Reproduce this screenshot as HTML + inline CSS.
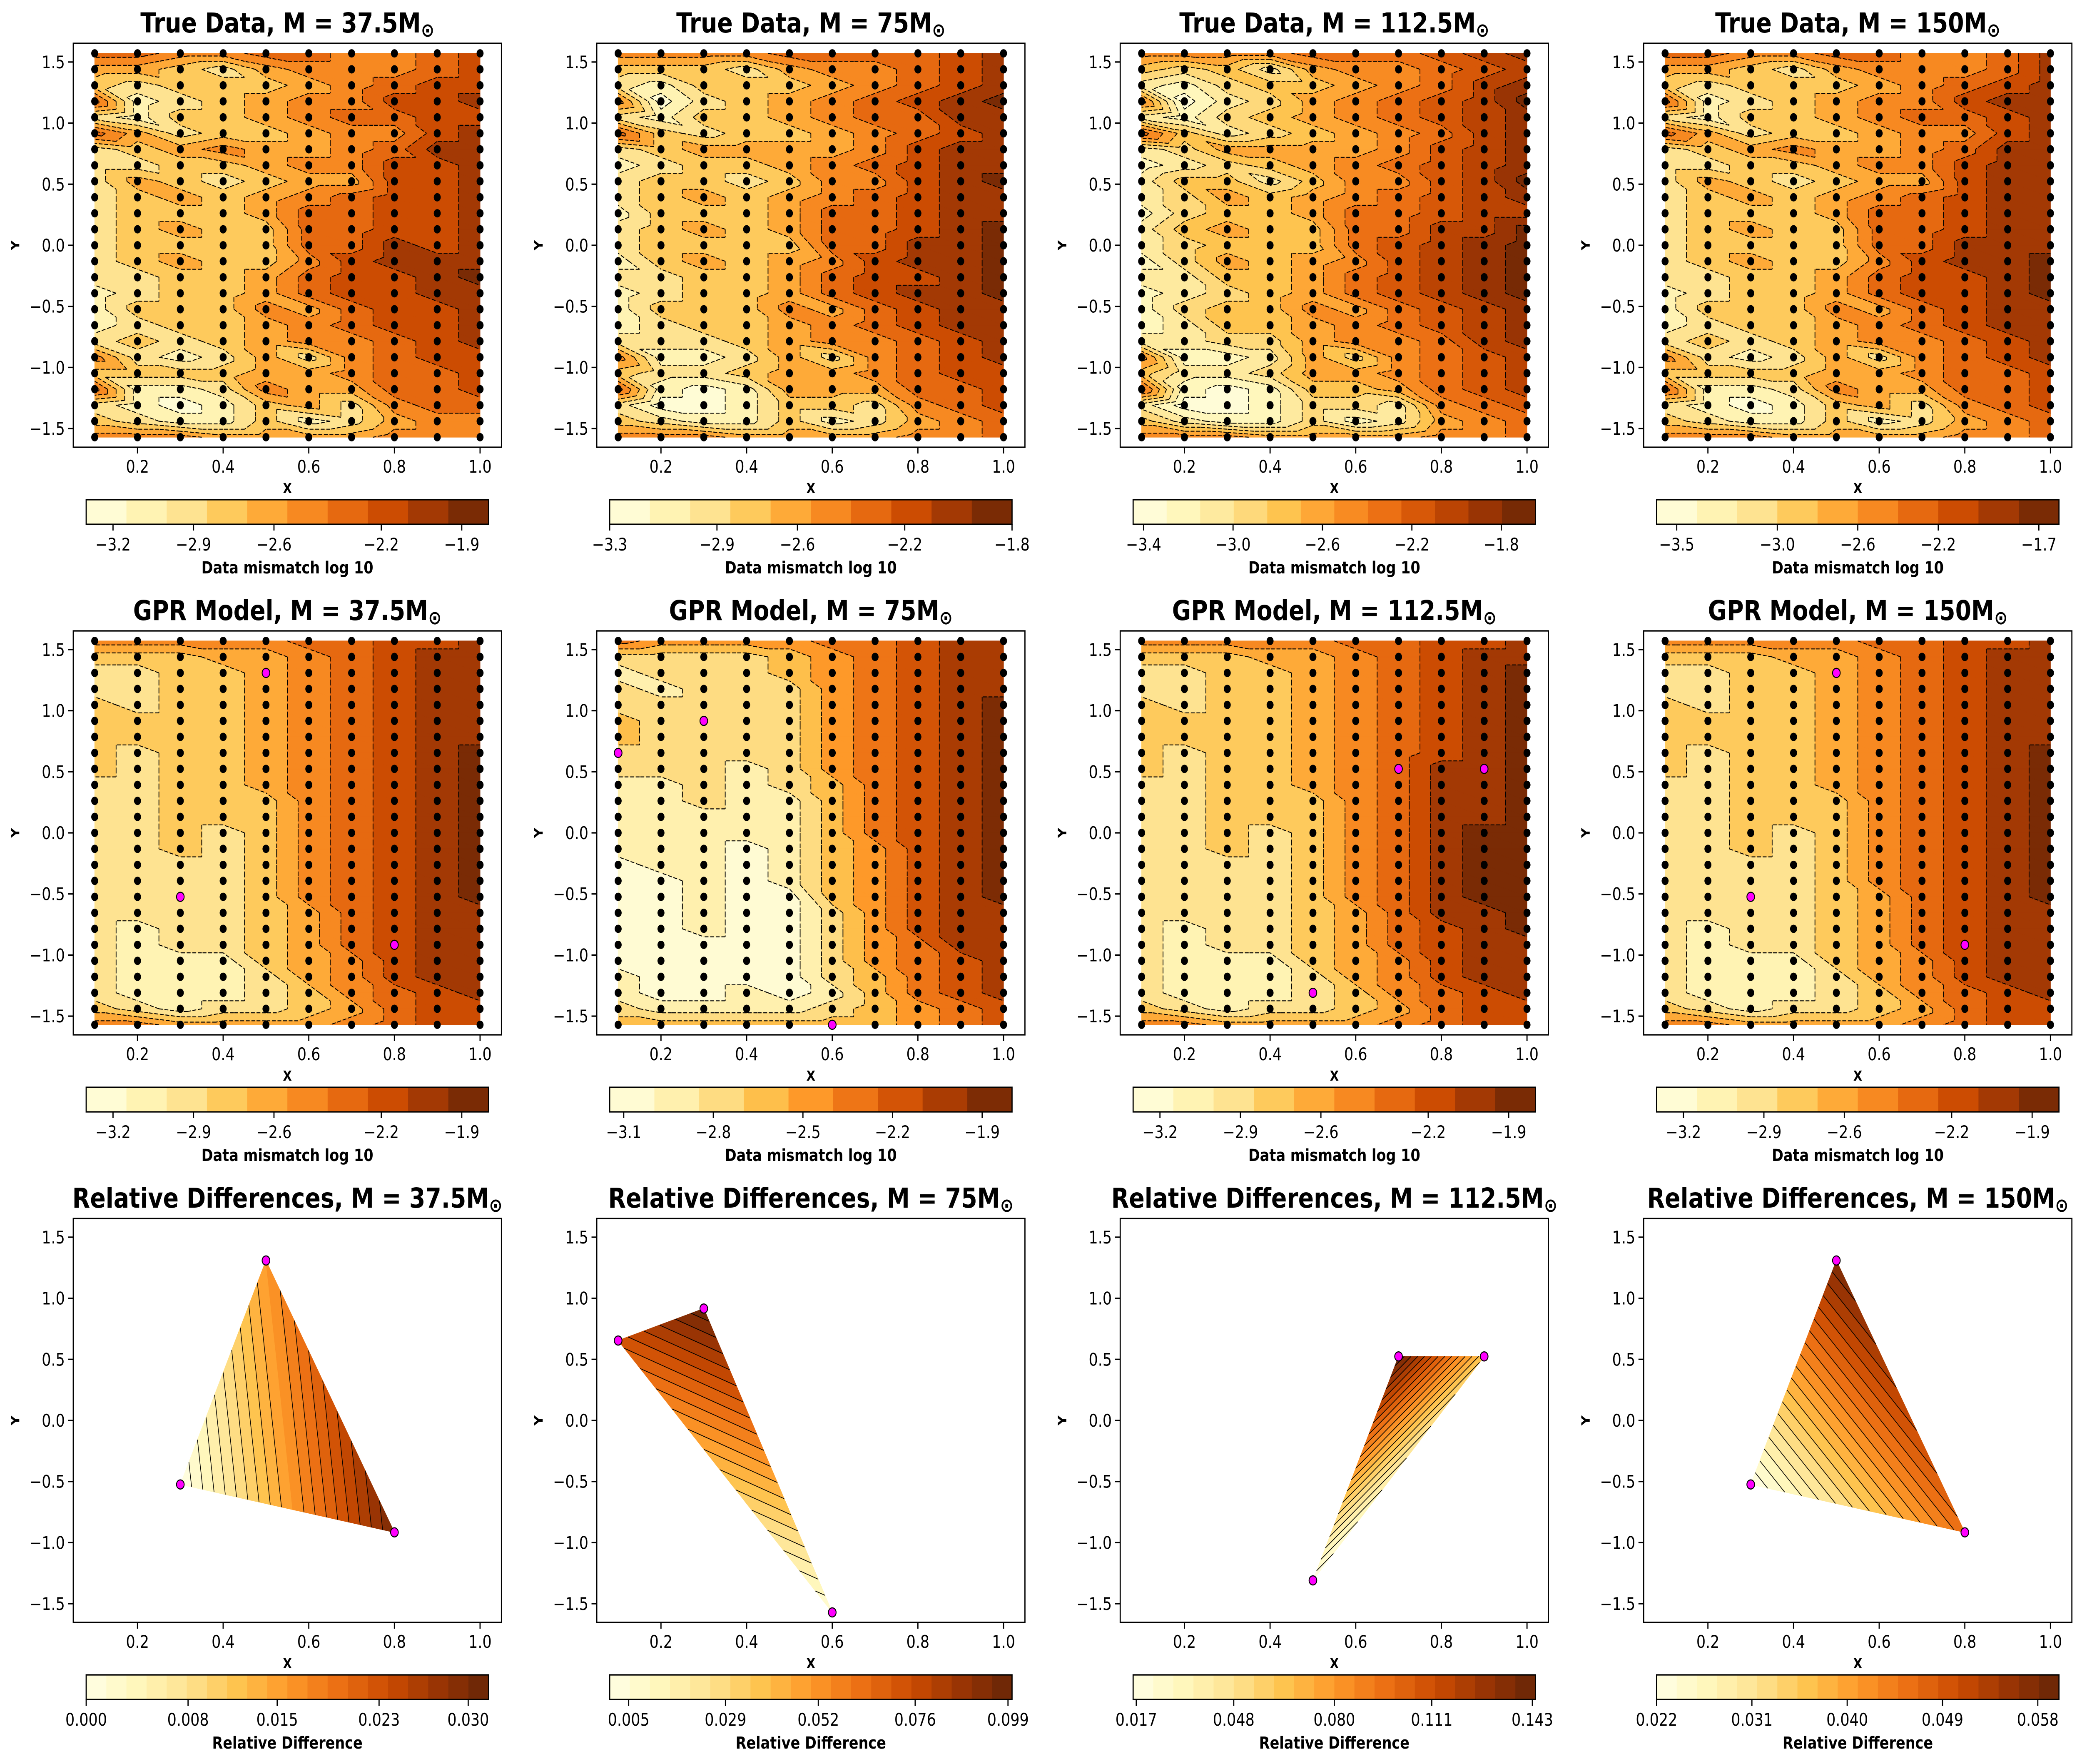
<!DOCTYPE html>
<html><head><meta charset="utf-8"><title>GPR contour grid</title>
<style>
html,body{margin:0;padding:0;background:#fff;overflow:hidden;width:100vw;height:100vh;}
svg{display:block;width:100vw;height:100vh;font-family:"DejaVu Sans","Liberation Sans",sans-serif;}
</style></head>
<body>
<svg id="fig" xmlns="http://www.w3.org/2000/svg" viewBox="0 0 5966 4236" preserveAspectRatio="none">
<rect x="0" y="0" width="5966" height="4236" fill="#fff"/>
</svg>
<script>
// ---------------- DATA ----------------
const xVals = [0.1,0.2,0.3,0.4,0.5,0.6,0.7,0.8,0.9,1.0];
const massLabels = ["37.5","75","112.5","150"];
const trueGrid1 = ["6655665567","4432455567","3233345677","6123455778","2133456677","6423345578","2345445688","2233455778","2432344778","2343456778","2333466778","2343366778","2333366878","2343357888","2233467789","1233467788","1333546778","1233456778","2323455678","5212425677","3333445667","6112544667","2101342566","3211312455","5554444555"];
const trueGrid2 = ["5555666678","3332455678","2133345678","5023456789","2133456688","6323345678","2344445788","1233456788","2332355789","2343456788","1333466788","2343466789","2333366889","1343457889","2233467789","1233467889","1333546788","1233456788","2223455678","5112425678","3223445677","6101444667","2001332567","3211312456","5554444556"];
const trueGrid3 = ["666677789a","4342566789","213445679a","602356789b","213456789a","742345679a","235555689a","123456789a","244246689b","235456789a","1344577899","245447799b","23444789ab","13545689ab","22445789ab","12345789ab","134465789a","124456789a","223356679a","6112536789","4223556789","7101445789","2001332678","4211312567","6665555667"];
const trueGrid4 = ["6655665568","4432455568","3233345678","6123455788","2133456678","6423345578","2345445688","2233455788","2432344788","2343456788","2333466788","2343366788","2333366888","2343357889","2233467789","1233467789","1333546788","1233456788","2323455678","5212425678","3333445667","6112544667","2101342567","3211312456","5554444556"];
const gprGrid1 = ["5555566778","3334456788","2233456788","2233456788","3233456788","3333456788","3333456788","3233456789","3233456789","2233456789","2233356789","2233356789","2232356789","2232356789","2222356789","2222356789","2222356789","2222346788","2122346788","2122346788","2111345788","2111245788","2111235678","3212234677","5544445677"];
const gprGrid2 = ["5444455677","2222345677","1222345677","2122245677","2222245678","3222245678","3222245678","2222245678","2221245678","1121235678","1121135678","1111135678","1111135678","1110134678","0110134678","0010134678","0010034678","0010024677","0010024677","0000024577","0000024567","1000023567","1001013567","2111123456","3333333456"];
const gprGrid3 = ["5555566778","3334456788","2233456789","2233456789","3233456789","3333456789","3333456789","3233456789","3233456889","2233456889","2233356889","2233356889","2232356899","2232356899","2222356899","2222356899","2222356899","2222346889","2122346789","2122346788","2111345788","2111245788","2111235678","3212234677","5544445677"];
const gprGrid4 = ["5555566778","3334456788","2233456788","2233456788","3233456788","3333456788","3333456788","3233456789","3233456789","2233456789","2233356789","2233356789","2232356789","2232356789","2222356789","2222356789","2222346789","2222346788","2122346788","2122346788","2111345788","2111245788","2111235678","3212234677","5544445677"];
const trueVmin = [-3.3,-3.3,-3.447,-3.6];
const trueVmax = [-1.8,-1.8,-1.647,-1.6];
const trueBins = [10,10,12,10];
const gprVmin = [-3.3,-3.147,-3.3,-3.3];
const gprVmax = [-1.8,-1.8,-1.8,-1.8];
const gprBins = [10,9,10,10];
const trueTickVals = [[-3.2,-2.9,-2.6,-2.2,-1.9],[-3.3,-2.9,-2.6,-2.2,-1.8],[-3.4,-3.0,-2.6,-2.2,-1.8],[-3.5,-3.0,-2.6,-2.2,-1.7]];
const gprTickVals = [[-3.2,-2.9,-2.6,-2.2,-1.9],[-3.1,-2.8,-2.5,-2.2,-1.9],[-3.2,-2.9,-2.6,-2.2,-1.9],[-3.2,-2.9,-2.6,-2.2,-1.9]];
const testX = [[0.5,0.3,0.8],[0.3,0.1,0.6],[0.7,0.9,0.5],[0.5,0.3,0.8]];
const testY = [[1.309,-0.524,-0.916],[0.916,0.654,-1.571],[0.524,0.524,-1.309],[1.309,-0.524,-0.916]];
const relDiff = [[0.0158,0.0,0.0301],[0.099,0.072,0.005],[0.143,0.062,0.017],[0.058,0.022,0.046]];
const relVmin = [0.0,0.0003,0.016,0.022];
const relVmax = [0.0316,0.100,0.144,0.060];
const relBins = [20,20,20,20];
const relTickVals = [[0.0,0.008,0.015,0.023,0.030],[0.005,0.029,0.052,0.076,0.099],[0.017,0.048,0.080,0.111,0.143],[0.022,0.031,0.040,0.049,0.058]];
const relTickLabels = [["0.000","0.008","0.015","0.023","0.030"],["0.005","0.029","0.052","0.076","0.099"],["0.017","0.048","0.080","0.111","0.143"],["0.022","0.031","0.040","0.049","0.058"]];
const xTicks = [0.2,0.4,0.6,0.8,1.0];
const yTicks = [-1.5,-1.0,-0.5,0.0,0.5,1.0,1.5];
const trueGrids = [trueGrid1,trueGrid2,trueGrid3,trueGrid4];
const gprGrids = [gprGrid1,gprGrid2,gprGrid3,gprGrid4];

// ---------------- LAYOUT ----------------
const NS = 'http://www.w3.org/2000/svg';
const svg = document.getElementById('fig');
const AX_L0 = 210, AX_W = 1227, AX_T0 = 104, AX_H = 970, COL_P = 1500, ROW_P = 1411;
const CB_L0 = 247, CB_W = 1153, CB_T0 = 1200, CB_H = 59;
const XMIN = 0.05, XMAX = 1.05, YMIN = -1.653, YMAX = 1.653;
const YL = [[255,255,229],[255,247,188],[254,227,145],[254,196,79],[254,153,41],[236,112,20],[204,76,2],[153,52,4],[102,37,6]];
function cmap(t){
  t = Math.max(0,Math.min(1,t));
  const p = t*8, i = Math.min(7,Math.floor(p)), f = p-i;
  const a = YL[i], b = YL[i+1];
  return 'rgb('+[0,1,2].map(k=>Math.round(a[k]+(b[k]-a[k])*f)).join(',')+')';
}
function mk(tag,parent){const e=document.createElementNS(NS,tag);(parent||svg).appendChild(e);return e;}
function fmt(v){return (v<0?'\u2212':'')+Math.abs(v).toFixed(1);}

function clip(poly,L,keepAbove){
  const out=[];
  for(let i=0;i<poly.length;i++){
    const a=poly[i], b=poly[(i+1)%poly.length];
    const ina = keepAbove ? a.v>=L : a.v<=L;
    const inb = keepAbove ? b.v>=L : b.v<=L;
    if(ina) out.push(a);
    if(ina!==inb){
      const t=(L-a.v)/(b.v-a.v);
      out.push({x:a.x+(b.x-a.x)*t,y:a.y+(b.y-a.y)*t,v:L});
    }
  }
  return out;
}

function makeAxes(g,L,T,name){
  const fr = mk('rect',g);
  fr.setAttribute('x',L);fr.setAttribute('y',T);fr.setAttribute('width',AX_W);fr.setAttribute('height',AX_H);
  fr.setAttribute('fill','none');fr.setAttribute('stroke','#000');fr.setAttribute('stroke-width','3.3');
  
  
  const sx = x=>L+(x-XMIN)/(XMAX-XMIN)*AX_W;
  const sy = y=>T+(YMAX-y)/(YMAX-YMIN)*AX_H;
  xTicks.forEach(v=>{
    const t=mk('line',g);
    t.setAttribute('x1',sx(v));t.setAttribute('x2',sx(v));t.setAttribute('y1',T+AX_H);t.setAttribute('y2',T+AX_H+15);
    t.setAttribute('stroke','#000');t.setAttribute('stroke-width','3.3');
    
    
    const lb=mk('text',g);
    lb.setAttribute('x',sx(v));lb.setAttribute('y',T+AX_H+61);lb.setAttribute('text-anchor','middle');lb.setAttribute('font-size','41.7');
    lb.textContent=v.toFixed(1);
    
    
  });
  yTicks.forEach(v=>{
    const t=mk('line',g);
    t.setAttribute('x1',L-15);t.setAttribute('x2',L);t.setAttribute('y1',sy(v));t.setAttribute('y2',sy(v));
    t.setAttribute('stroke','#000');t.setAttribute('stroke-width','3.3');
    
    
    const lb=mk('text',g);
    lb.setAttribute('x',L-24);lb.setAttribute('y',sy(v)+15);lb.setAttribute('text-anchor','end');lb.setAttribute('font-size','41.7');
    lb.textContent=fmt(v);
    
    
  });
  const xl=mk('text',g);
  xl.setAttribute('x',L+AX_W/2);xl.setAttribute('y',T+AX_H+110);xl.setAttribute('text-anchor','middle');xl.setAttribute('font-size','33');xl.setAttribute('font-weight','bold');
  xl.textContent='X';
  
  
  const yl=mk('text',g);
  const yc=T+AX_H/2;
  yl.setAttribute('x',L-155);yl.setAttribute('y',yc);yl.setAttribute('text-anchor','middle');yl.setAttribute('font-size','33');yl.setAttribute('font-weight','bold');
  yl.setAttribute('transform','rotate(-90 '+(L-155)+' '+yc+')');
  yl.textContent='Y';
  
  
  return {sx,sy};
}

function makeTitle(g,L,T,prefix,mass){
  const t=mk('text',g);
  t.setAttribute('x',L+AX_W/2);t.setAttribute('y',T-26);t.setAttribute('text-anchor','middle');
  t.setAttribute('font-size','66');t.setAttribute('font-weight','bold');
  
  
  const s1=mk('tspan',t); s1.textContent=prefix+', M = '+mass+'M';
  const s2=mk('tspan',t); s2.textContent='\u2299'; s2.setAttribute('font-size','46'); s2.setAttribute('dy','10');
}

function makeColorbar(g,L,T,vmin,vmax,nb,tickVals,tickLabels,label){
  const w=CB_W/nb;
  for(let k=0;k<nb;k++){
    const r=mk('rect',g);
    r.setAttribute('x',L+k*w);r.setAttribute('y',T);r.setAttribute('width',w+0.6);r.setAttribute('height',CB_H);
    r.setAttribute('fill',cmap((k+0.5)/nb));
    
    
  }
  const o=mk('rect',g);
  o.setAttribute('x',L);o.setAttribute('y',T);o.setAttribute('width',CB_W);o.setAttribute('height',CB_H);
  o.setAttribute('fill','none');o.setAttribute('stroke','#000');o.setAttribute('stroke-width','3.3');
  
  
  tickVals.forEach((v,i)=>{
    const x=L+(v-vmin)/(vmax-vmin)*CB_W;
    const t=mk('line',g);
    t.setAttribute('x1',x);t.setAttribute('x2',x);t.setAttribute('y1',T+CB_H);t.setAttribute('y2',T+CB_H+15);
    t.setAttribute('stroke','#000');t.setAttribute('stroke-width','3.3');
    
    
    const lb=mk('text',g);
    lb.setAttribute('x',x);lb.setAttribute('y',T+CB_H+63);lb.setAttribute('text-anchor','middle');lb.setAttribute('font-size','41.7');
    lb.textContent=tickLabels[i];
    
    
  });
  const cl=mk('text',g);
  cl.setAttribute('x',L+CB_W/2);cl.setAttribute('y',T+CB_H+118);cl.setAttribute('text-anchor','middle');cl.setAttribute('font-size','40');cl.setAttribute('font-weight','bold');
  cl.textContent=label;
  
  
}

function drawBands(g,tris,vmin,vmax,nb,sx,sy,dashed){
  const step=(vmax-vmin)/nb;
  const dstr=new Array(nb).fill('');
  const lstr=new Array(nb+1).fill('');
  tris.forEach(tri=>{
    for(let k=0;k<nb;k++){
      const lo=vmin+k*step, hi=lo+step;
      let p=tri;
      if(k>0) p=clip(p,lo,true);
      if(p.length<3) continue;
      if(k<nb-1) p=clip(p,hi,false);
      if(p.length<3) continue;
      dstr[k]+='M'+p.map(q=>sx(q.x).toFixed(1)+' '+sy(q.y).toFixed(1)).join('L')+'Z';
    }
    for(let k=1;k<nb;k++){
      const Lv=vmin+k*step, pts=[];
      for(let i=0;i<3;i++){
        const a=tri[i], b=tri[(i+1)%3];
        if((a.v-Lv)*(b.v-Lv)<0){const t=(Lv-a.v)/(b.v-a.v);pts.push([a.x+(b.x-a.x)*t,a.y+(b.y-a.y)*t]);}
      }
      if(pts.length===2) lstr[k]+='M'+sx(pts[0][0]).toFixed(1)+' '+sy(pts[0][1]).toFixed(1)+'L'+sx(pts[1][0]).toFixed(1)+' '+sy(pts[1][1]).toFixed(1);
    }
  });
  for(let k=0;k<nb;k++){
    if(!dstr[k]) continue;
    const p=mk('path',g);
    p.setAttribute('d',dstr[k]);p.setAttribute('fill',cmap((k+0.5)/nb));p.setAttribute('stroke',cmap((k+0.5)/nb));p.setAttribute('stroke-width','1.5');p.setAttribute('stroke-linejoin','round');
    
    
  }
  for(let k=1;k<nb;k++){
    if(!lstr[k]) continue;
    const p=mk('path',g);
    p.setAttribute('d',lstr[k]);p.setAttribute('fill','none');p.setAttribute('stroke','#000');
    p.setAttribute('stroke-width',dashed?'2.2':'1.8');
    if(dashed) p.setAttribute('stroke-dasharray','11 5');
    
    
  }
}

function gridPanel(g,grid,vmin,vmax,nb,sx,sy,tx,ty){
  const step=(vmax-vmin)/nb;
  const nr=grid.length;
  const yAt=r=>Math.PI/2-r*Math.PI/(nr-1);
  const V=grid.map(s=>s.split('').map(ch=>vmin+(parseInt(ch,16)+0.5)*step));
  const tris=[];
  for(let r=0;r<nr-1;r++)for(let c=0;c<xVals.length-1;c++){
    const a={x:xVals[c],y:yAt(r),v:V[r][c]}, b={x:xVals[c+1],y:yAt(r),v:V[r][c+1]};
    const d={x:xVals[c],y:yAt(r+1),v:V[r+1][c]}, e={x:xVals[c+1],y:yAt(r+1),v:V[r+1][c+1]};
    tris.push([a,b,e]); tris.push([a,e,d]);
  }
  drawBands(g,tris,vmin,vmax,nb,sx,sy,true);
  for(let r=0;r<nr;r++)for(let c=0;c<xVals.length;c++){
    const y=yAt(r), x=xVals[c];
    let isTest=false;
    if(tx){for(let i=0;i<tx.length;i++) if(Math.abs(tx[i]-x)<1e-6 && Math.abs(ty[i]-y)<0.02) isTest=true;}
    const ci=mk('circle',g);
    ci.setAttribute('cx',sx(x));ci.setAttribute('cy',sy(y));
    if(isTest){ci.setAttribute('r','11');ci.setAttribute('fill','#ff00ff');ci.setAttribute('stroke','#000');ci.setAttribute('stroke-width','2.5');
      
    } else {ci.setAttribute('r','10');ci.setAttribute('fill','#000');
      
    }
    
  }
}

// ---------------- BUILD ----------------
for(let c=0;c<4;c++){
  let L=AX_L0+c*COL_P, T=AX_T0;
  let g=mk('g');  
  let ax=makeAxes(g,L,T,'true-data');
  gridPanel(g,trueGrids[c],trueVmin[c],trueVmax[c],trueBins[c],ax.sx,ax.sy,null,null);
  makeTitle(g,L,T,'True Data',massLabels[c]);
  makeColorbar(g,CB_L0+c*COL_P,CB_T0,trueVmin[c],trueVmax[c],trueBins[c],trueTickVals[c],trueTickVals[c].map(fmt),'Data mismatch log 10');
  T=AX_T0+ROW_P;
  g=mk('g');  
  ax=makeAxes(g,L,T,'gpr-model');
  gridPanel(g,gprGrids[c],gprVmin[c],gprVmax[c],gprBins[c],ax.sx,ax.sy,testX[c],testY[c]);
  makeTitle(g,L,T,'GPR Model',massLabels[c]);
  makeColorbar(g,CB_L0+c*COL_P,CB_T0+ROW_P,gprVmin[c],gprVmax[c],gprBins[c],gprTickVals[c],gprTickVals[c].map(fmt),'Data mismatch log 10');
  T=AX_T0+2*ROW_P;
  g=mk('g');  
  ax=makeAxes(g,L,T,'relative-difference');
  const tri=[0,1,2].map(i=>({x:testX[c][i],y:testY[c][i],v:relDiff[c][i]}));
  drawBands(g,[tri],relVmin[c],relVmax[c],relBins[c],ax.sx,ax.sy,false);
  for(let i=0;i<3;i++){
    const ci=mk('circle',g);
    ci.setAttribute('cx',ax.sx(testX[c][i]));ci.setAttribute('cy',ax.sy(testY[c][i]));ci.setAttribute('r','11');
    ci.setAttribute('fill','#ff00ff');ci.setAttribute('stroke','#000');ci.setAttribute('stroke-width','2.5');
    
    
  }
  makeTitle(g,L,T,'Relative Differences',massLabels[c]);
  makeColorbar(g,CB_L0+c*COL_P,CB_T0+2*ROW_P,relVmin[c],relVmax[c],relBins[c],relTickVals[c],relTickLabels[c],'Relative Difference');
}
</script>
</body></html>
